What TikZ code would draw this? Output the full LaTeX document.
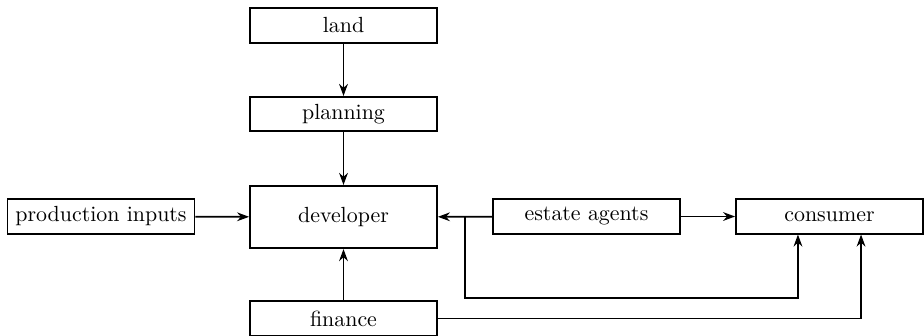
\documentclass[tikz,border=0pt]{standalone}
\usetikzlibrary{arrows.meta,calc}
\begin{document}
\begin{tikzpicture}[x=0.4565pt,y=-0.4565pt,
  box/.style={draw,thick,minimum width=3cm,minimum height=0.55cm,inner sep=2pt},
  bigbox/.style={box,minimum height=1cm},
  arr/.style={thick,-{Stealth[length=5.5pt,width=4pt]}}]
\useasboundingbox (0,0) rectangle (924,335);
\node[box] (land) at (343.5,25.5) {land};
\node[box] (plan) at (343.5,114) {planning};
\node[bigbox] (dev) at (343.5,217) {developer};
\node[box] (prod) at (101,216.5) {production inputs};
\node[box] (ea) at (586.5,216.5) {estate agents};
\node[box] (cons) at (829.5,216.5) {consumer};
\node[box] (fin) at (343.5,318.5) {finance};
\coordinate (j) at (465,216.5);
\coordinate (low) at (465,298);
\draw[arr] (land) -- (plan);
\draw[arr] (plan) -- (dev);
\draw[arr] (prod) -- (dev);
\draw[arr] (fin) -- (dev);
\draw[arr] (ea) -- (dev);
\draw[arr] (ea) -- (cons);
\draw[arr] (j) -- (low) -| ([xshift=-14.4pt]cons.south);
\draw[arr] (fin.east) -| ([xshift=14.4pt]cons.south);
\end{tikzpicture}
\end{document}
